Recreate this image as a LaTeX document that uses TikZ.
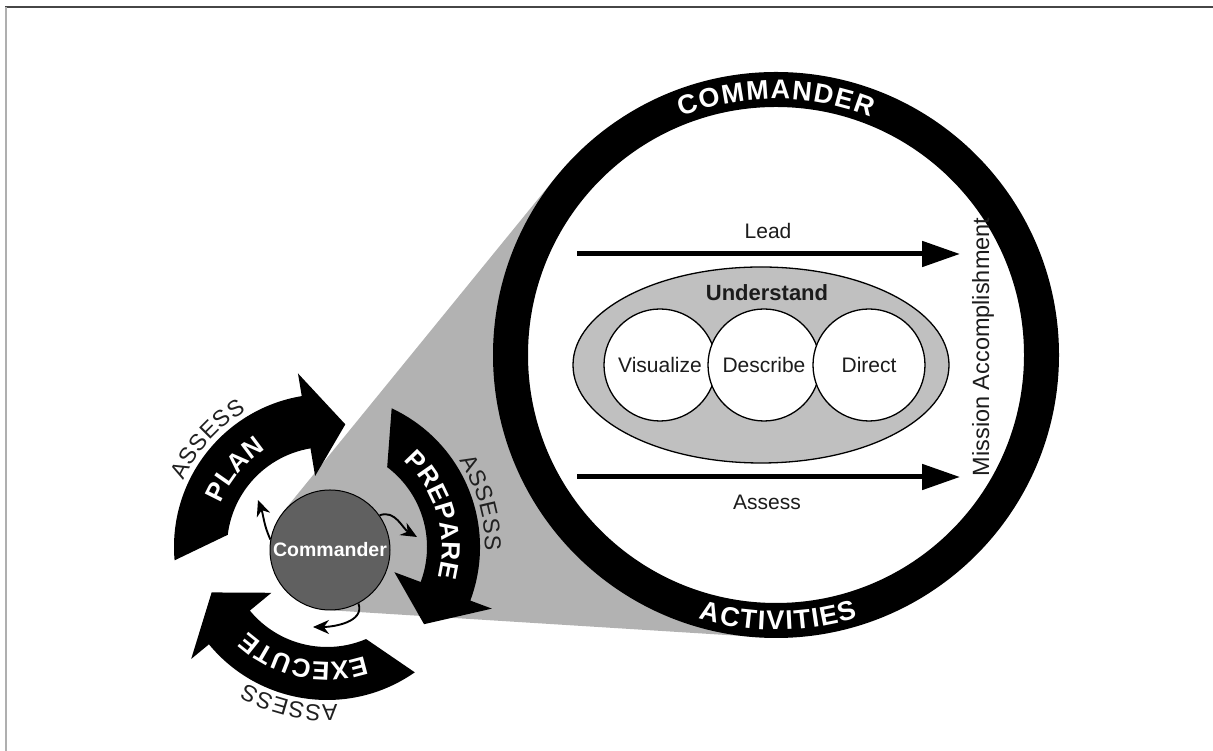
\documentclass[tikz,border=0pt]{standalone}
\usepackage{fontspec}
\setmainfont{Liberation Sans}
\usetikzlibrary{arrows.meta}

\definecolor{wedgegray}{RGB}{178,178,178}
\definecolor{ovalgray}{RGB}{192,192,192}
\definecolor{cmdgray}{RGB}{96,96,96}
\definecolor{inktext}{RGB}{28,28,28}
\definecolor{assessink}{RGB}{32,32,32}
\definecolor{topline}{RGB}{70,70,70}
\definecolor{sideline}{RGB}{175,175,175}

% Letters set one by one along a circle.
% #1 centre, #2 baseline radius, #3 middle angle, #4 1 = clockwise with tops outward,
% -1 = anticlockwise with tops inward, #5 font, #6 extra letter spacing, #7 colour, #8 letters
\newlength\awlen
\newcommand\awmeasure[2]{%
  \pgfinterruptpicture
    \settowidth\awlen{#1#2}\global\awlen=\awlen
  \endpgfinterruptpicture}
\newcommand\arcword[8]{%
  \begingroup
  \gdef\awsum{0}%
  \foreach \awch in {#8}{%
    \awmeasure{#5}{\awch}%
    \pgfmathsetmacro\awtmp{\awsum+\awlen+#6}%
    \xdef\awsum{\awtmp}}%
  \pgfmathsetmacro\awtotal{\awsum-#6}%
  \gdef\awpos{0}%
  \foreach \awch in {#8}{%
    \awmeasure{#5}{\awch}%
    \pgfmathsetmacro\awang{#3-(#4)*(\awpos+\awlen/2-\awtotal/2)/(#2)*180/pi}%
    \pgfmathsetmacro\awrot{\awang-90*(#4)}%
    \node[anchor=base,inner sep=0pt,text=#7,font={#5},rotate=\awrot]
      at ([shift={(\awang:#2)}]#1) {\awch};%
    \pgfmathsetmacro\awtmp{\awpos+\awlen+#6}%
    \xdef\awpos{\awtmp}}%
  \endgroup}

\tikzset{
  cyclearrow/.pic={
    \fill[black] (-175:153) arc[start angle=-175,end angle=-260.5,radius=153]
      -- (-260.5:176) -- (-278.5:124) -- (-260.5:72) -- (-260.5:100)
      arc[start angle=-260.5,end angle=-187,radius=100] -- cycle;
  },
  thinarrow/.style={line width=1.9pt,-{Stealth[length=16pt,width=14pt]}},
  bigarrow/.style={line width=5pt,-{Triangle[length=38pt,width=25pt]}},
  bodytext/.style={font=\fontsize{21}{21}\selectfont,text=inktext,inner sep=0pt},
  bubble/.style={circle,draw=black,line width=1.3pt,fill=white,minimum size=112pt,
    inner sep=0pt,font=\fontsize{21}{21}\selectfont,text=inktext},
}

\begin{document}
\begin{tikzpicture}[x=1pt,y=1pt]
\useasboundingbox (0,0) rectangle (1213,751);

% page rules
\coordinate (ruleTL) at (5,744);
\coordinate (ruleTR) at (1213,744);
\coordinate (ruleBL) at (5.5,0);
\draw[topline,line width=1.5pt] (ruleTL) -- (ruleTR);
\draw[sideline,line width=2pt] (5.5,744) -- (ruleBL);

% key points
\coordinate (bigc) at (776,396);
\coordinate (O) at (327,204);

% grey cone joining the commander to the enlarged view
\coordinate (wedgeA) at (283,239);
\coordinate (wedgeB) at (556,574);
\coordinate (wedgeC) at (758,114);
\coordinate (wedgeD) at (326,141);
\coordinate (wedgeE) at (330,201);
\fill[wedgegray] (wedgeA) -- (wedgeB) -- (bigc) -- (wedgeC) -- (wedgeD) -- (wedgeE) -- cycle;

% the operations cycle
\pic at (O) {cyclearrow};
\pic[rotate=-120] at (O) {cyclearrow};
\pic[rotate=-240] at (O) {cyclearrow};

\arcword{O}{115}{140}{1}{\fontsize{26}{26}\selectfont\bfseries}{0.3}{white}{P,L,A,N}
\arcword{O}{115}{16.5}{1}{\fontsize{26}{26}\selectfont\bfseries}{0.3}{white}{P,R,E,P,A,R,E}
\arcword{O}{115}{258}{1}{\fontsize{26}{26}\selectfont\bfseries}{0.3}{white}{E,X,E,C,U,T,E}
\arcword{O}{158}{138}{1}{\fontsize{23}{23}\selectfont}{0.6}{assessink}{A,S,S,E,S,S}
\arcword{O}{158}{16}{1}{\fontsize{23}{23}\selectfont}{0.6}{assessink}{A,S,S,E,S,S}
\arcword{O}{158}{256.5}{1}{\fontsize{23}{23}\selectfont}{0.6}{assessink}{A,S,S,E,S,S}

% commander at the centre of the cycle
\node[circle,draw=black,line width=1pt,fill=cmdgray,minimum size=120pt,inner sep=0pt,
  text=white,font=\fontsize{19.5}{19.5}\selectfont\bfseries] (cmd) at (330,201) {Commander};

\coordinate (tipA) at (258,251);
\coordinate (tipB) at (417,214);
\coordinate (tipC) at (313,124);
\draw[thinarrow] (cmd.170) to[out=115,in=-70] (tipA);
\draw[thinarrow] (cmd.35) to[out=20,in=150] (tipB);
\draw[thinarrow] (cmd.298) to[out=-70,in=0] (tipC);

% enlarged view: commander activities ring
\draw[black,line width=35pt,fill=white] (bigc) circle[radius=265.5];
\arcword{bigc}{256}{90}{1}{\fontsize{27}{27}\selectfont\bfseries}{1.5}{white}{C,O,M,M,A,N,D,E,R}
\arcword{bigc}{275}{270.5}{-1}{\fontsize{27}{27}\selectfont\bfseries}{1.5}{white}{A,C,T,I,V,I,T,I,E,S}

% understand oval with the three activities
\coordinate (ovalc) at (761,386);
\draw[black,line width=1.3pt,fill=ovalgray] (ovalc) ellipse[x radius=188,y radius=98];
\node[bodytext,font=\fontsize{22}{22}\selectfont\bfseries] (understand) at (767,458) {Understand};
\node[bubble] (visualize) at (660,386) {Visualize};
\node[bubble] (describe) at (764,386) {Describe};
\node[bubble] (direct) at (869,386) {Direct};

% lead and assess arrows
\coordinate (leadfrom) at (577,497);
\coordinate (leadto) at (960,497);
\coordinate (assessfrom) at (577,274);
\coordinate (assessto) at (960,274);
\draw[bigarrow] (leadfrom) -- (leadto);
\draw[bigarrow] (assessfrom) -- (assessto);
\node[bodytext] (lead) at (768,520) {Lead};
\node[bodytext] (assess) at (767,249) {Assess};
\node[bodytext,rotate=90,font=\fontsize{23.5}{23.5}\selectfont] (mission) at (983,404) {Mission Accomplishment};
\end{tikzpicture}
\end{document}
